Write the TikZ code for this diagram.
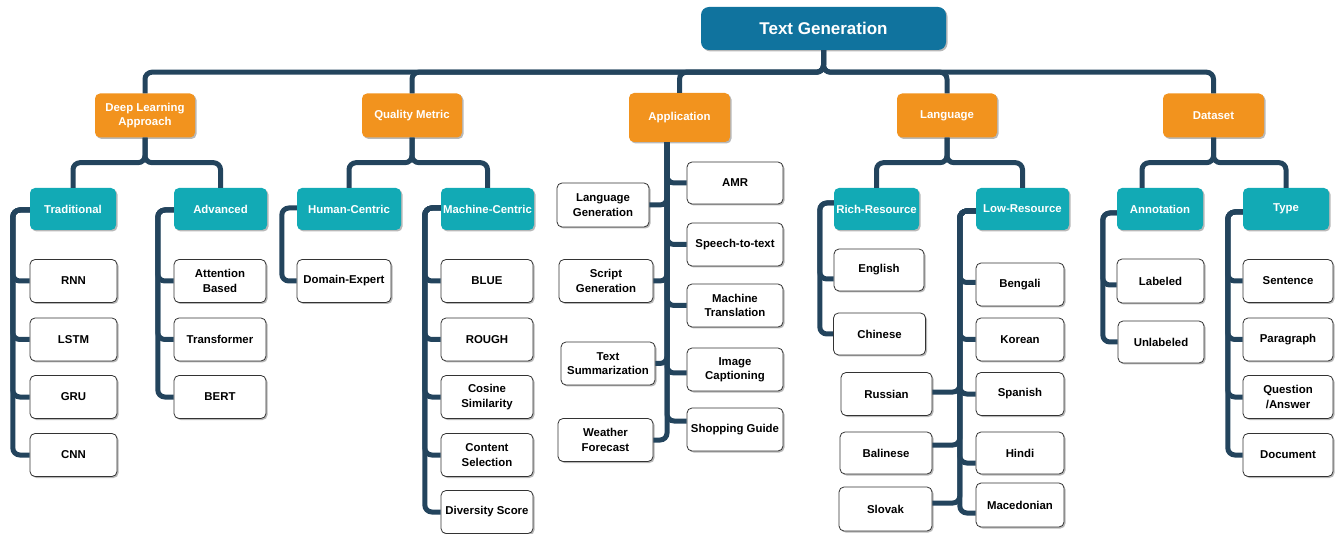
\documentclass[tikz,border=0pt]{standalone}
\usepackage{fontspec}
\setmainfont{Liberation Sans}
\usetikzlibrary{shadows}
\definecolor{rootc}{HTML}{10739E}
\definecolor{orangec}{HTML}{F2931E}
\definecolor{tealc}{HTML}{12AAB5}
\definecolor{linec}{HTML}{23445D}
\definecolor{leafline}{HTML}{333333}
\tikzset{
  base/.style={rounded corners=5pt, align=center, inner sep=1pt,
    font=\bfseries\fontsize{11.4}{14.3}\selectfont,
    drop shadow={shadow xshift=1.5pt,shadow yshift=-1.5pt,opacity=.28,fill=black}},
  rootbox/.style={base, fill=rootc, text=white, rounded corners=8pt,
    font=\bfseries\fontsize{17}{20}\selectfont, minimum width=245pt, minimum height=43pt},
  catbox/.style={base, fill=orangec, text=white, minimum width=100pt, minimum height=44pt},
  subbox/.style={base, fill=tealc, text=white, minimum width=86pt, minimum height=42pt},
  leaf/.style={base, fill=white, text=black, draw=leafline, line width=0.8pt,
    minimum width=90pt, minimum height=43pt},
  conn/.style={draw=linec, line width=5pt, rounded corners=7pt}
}
\begin{document}
\begin{tikzpicture}[x=1pt,y=-1pt]
\useasboundingbox (0,0) rectangle (1341,534);
% root
\node[rootbox] (root) at (823.5,28.5) {Text Generation};
% level 1
\node[catbox] (dl) at (145,115.5) {Deep Learning\\Approach};
\node[catbox] (qm) at (412,115.5) {Quality Metric};
\node[catbox, minimum width=101pt, minimum height=49pt] (app) at (679.5,117.5) {Application};
\node[catbox] (lang) at (947,115.5) {Language};
\node[catbox, minimum width=101pt] (data) at (1213.5,115.5) {Dataset};
% level 2
\node[subbox] (trad) at (73,209) {Traditional};
\node[subbox, minimum width=93pt] (adv) at (220.5,209) {Advanced};
\node[subbox, minimum width=104pt] (hc) at (349,209) {Human-Centric};
\node[subbox, minimum width=93pt] (mc) at (487.5,209) {Machine-Centric};
\node[subbox, minimum width=85pt] (rr) at (876.5,209) {Rich-Resource};
\node[subbox, minimum width=93pt] (lr) at (1022.5,209) {Low-Resource};
\node[subbox] (an) at (1160,209) {Annotation};
\node[subbox] (ty) at (1286,209) {Type};
% leaves: traditional
\node[leaf, minimum width=87pt] (rnn) at (73.5,281) {RNN};
\node[leaf, minimum width=87pt] (lstm) at (73.5,339.5) {LSTM};
\node[leaf, minimum width=87pt] (gru) at (73.5,397) {GRU};
\node[leaf, minimum width=87pt] (cnn) at (73.5,455) {CNN};
% advanced
\node[leaf, minimum width=92pt] (att) at (220,281) {Attention\\Based};
\node[leaf, minimum width=92pt] (trans) at (220,339.5) {Transformer};
\node[leaf, minimum width=92pt] (bert) at (220,397) {BERT};
% human-centric
\node[leaf, minimum width=94pt] (dom) at (344,281) {Domain-Expert};
% machine-centric
\node[leaf, minimum width=92pt] (blue) at (487,281) {BLUE};
\node[leaf, minimum width=92pt] (rough) at (487,339.5) {ROUGH};
\node[leaf, minimum width=92pt] (cos) at (487,397) {Cosine\\Similarity};
\node[leaf, minimum width=92pt] (cont) at (487,455) {Content\\Selection};
\node[leaf, minimum width=92pt] (div) at (487,512) {Diversity Score};
% application left
\node[leaf, minimum width=92pt, minimum height=44pt] (lg) at (603,205) {Language\\Generation};
\node[leaf, minimum width=94pt] (sg) at (606,281) {Script\\Generation};
\node[leaf, minimum width=94pt] (ts) at (608,363.5) {Text\\Summarization};
\node[leaf, minimum width=95pt] (wf) at (605.5,440) {Weather\\Forecast};
% application right
\node[leaf, minimum width=96pt, minimum height=42pt] (amr) at (735,183) {AMR};
\node[leaf, minimum width=96pt] (stt) at (735,244.5) {Speech-to-text};
\node[leaf, minimum width=96pt] (mt) at (735,305.5) {Machine\\Translation};
\node[leaf, minimum width=96pt] (ic) at (735,369.5) {Image\\Captioning};
\node[leaf, minimum width=96pt] (shop) at (735,429.5) {Shopping Guide};
% rich-resource
\node[leaf, minimum height=42pt] (en) at (879,270) {English};
\node[leaf, minimum width=92pt, minimum height=42pt] (zh) at (879.5,334) {Chinese};
% low-resource left
\node[leaf, minimum width=91pt] (ru) at (886.5,394) {Russian};
\node[leaf, minimum width=92pt, minimum height=42pt] (ba) at (886,453) {Balinese};
\node[leaf, minimum width=93pt, minimum height=44pt] (sk) at (885.5,509) {Slovak};
% low-resource right
\node[leaf, minimum width=88pt] (bn) at (1020,284.5) {Bengali};
\node[leaf, minimum width=88pt] (ko) at (1020,339.5) {Korean};
\node[leaf, minimum width=88pt] (sp) at (1020,394) {Spanish};
\node[leaf, minimum width=88pt, minimum height=42pt] (hi) at (1020,453) {Hindi};
\node[leaf, minimum width=88pt, minimum height=44pt] (mk) at (1020,505) {Macedonian};
% annotation
\node[leaf, minimum width=87pt, minimum height=44pt] (lab) at (1160.5,281) {Labeled};
\node[leaf, minimum width=86pt, minimum height=42pt] (unl) at (1161,342) {Unlabeled};
% type
\node[leaf] (sen) at (1288,281) {Sentence};
\node[leaf] (par) at (1288,339.5) {Paragraph};
\node[leaf] (qa) at (1288,397) {Question\\/Answer};
\node[leaf] (doc) at (1288,455) {Document};

% ---- connectors ----
\foreach \c in {dl,qm,app,lang,data}
  \draw[conn] (root.south) -- ++(0,22) -| (\c.north);
\draw[conn] (app.south) -- (app.south);
\foreach \p/\c in {dl/trad,dl/adv,qm/hc,qm/mc,lang/rr,lang/lr,data/ty}
  \draw[conn] (\p.south) -- ++(0,25) -| (\c.north);
\draw[conn] (data.south) -- ++(0,25) -| ([xshift=-18pt]an.north);
% traditional
\foreach \c in {rnn,lstm,gru,cnn}
  \draw[conn] ([yshift=-1pt]trad.west) -- ++(-17,0) |- (\c.west);
% advanced
\foreach \c in {att,trans,bert}
  \draw[conn] ([yshift=-1pt]adv.west) -- ++(-16,0) |- (\c.west);
% human-centric
\draw[conn] ([yshift=1pt]hc.west) -- ++(-15,0) |- (dom.west);
% machine-centric
\foreach \c in {blue,rough,cos,cont,div}
  \draw[conn] ([yshift=1pt]mc.west) -- ++(-16,0) |- (\c.west);
% application
\coordinate (appstem) at ([xshift=-12.5pt]app.south);
\foreach \c in {lg,sg,ts,wf}
  \draw[conn] (appstem) |- (\c.east);
\foreach \c in {amr,stt,mt}
  \draw[conn] (appstem) |- (\c.west);
\draw[conn] (appstem) |- ([yshift=-3.5pt]ic.west);
\draw[conn] (appstem) |- ([yshift=8.5pt]shop.west);
% rich-resource
\draw[conn] ([yshift=6pt]rr.west) -- ++(-14,0) |- ([yshift=-9pt]en.west);
\draw[conn] ([yshift=6pt]rr.west) -- ++(-14,0) |- (zh.west);
% low-resource
\draw[conn] ([yshift=-2pt]lr.west) -- ++(-16,0) |- ([yshift=2pt]bn.west);
\draw[conn] ([yshift=-2pt]lr.west) -- ++(-16,0) |- (ko.west);
\draw[conn] ([yshift=-2pt]lr.west) -- ++(-16,0) |- (sp.west);
\draw[conn] ([yshift=-2pt]lr.west) -- ++(-16,0) |- ([yshift=-10pt]hi.west);
\draw[conn] ([yshift=-2pt]lr.west) -- ++(-16,0) |- ([yshift=-8pt]mk.west);
\draw[conn] ([yshift=-2pt]lr.west) -- ++(-16,0) |- ([yshift=2pt]ru.east);
\draw[conn] ([yshift=-2pt]lr.west) -- ++(-16,0) |- ([yshift=8pt]ba.east);
\draw[conn] ([yshift=-2pt]lr.west) -- ++(-16,0) |- ([yshift=6pt]sk.east);
% annotation
\draw[conn] ([yshift=-4pt]an.west) -- ++(-14,0) |- ([yshift=-4pt]lab.west);
\draw[conn] ([yshift=-4pt]an.west) -- ++(-14,0) |- (unl.west);
% type
\foreach \c in {sen,par,qa,doc}
  \draw[conn] ([yshift=-3pt]ty.west) -- ++(-15,0) |- (\c.west);
\end{tikzpicture}
\end{document}
